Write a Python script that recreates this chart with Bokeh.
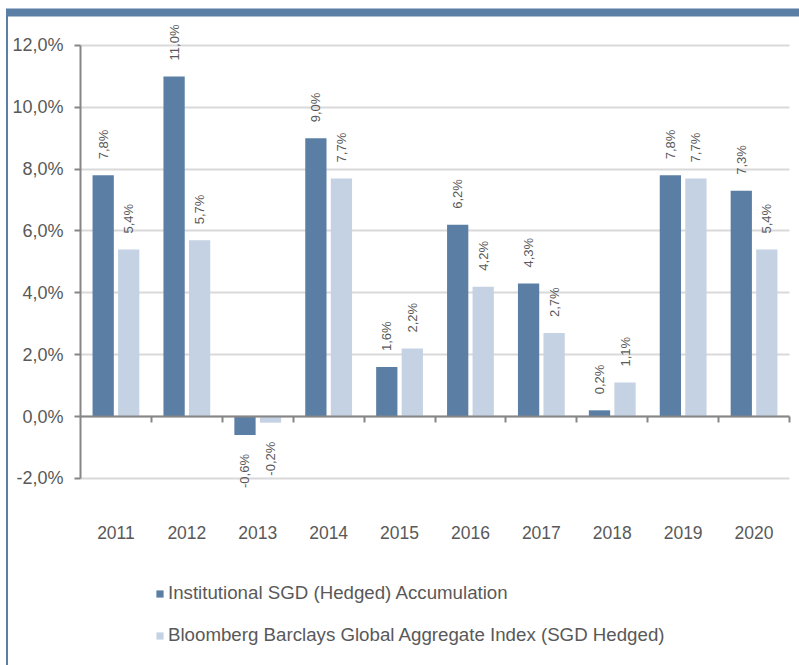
import numpy as np
from bokeh.plotting import figure
from bokeh.models import (ColumnDataSource, Range1d, FixedTicker, Legend,
                          LegendItem, BoxAnnotation, CDSView, IndexFilter)
from bokeh.embed import file_html
from bokeh.resources import INLINE

# ---------------- data ----------------
years = ["2011", "2012", "2013", "2014", "2015", "2016", "2017", "2018", "2019", "2020"]
fund = [7.8, 11.0, -0.6, 9.0, 1.6, 6.2, 4.3, 0.2, 7.8, 7.3]
index_ret = [5.4, 5.7, -0.2, 7.7, 2.2, 4.2, 2.7, 1.1, 7.7, 5.4]
series_names = ["Institutional SGD (Hedged) Accumulation",
                "Bloomberg Barclays Global Aggregate Index (SGD Hedged)"]
y_ticks = [-2, 0, 2, 4, 6, 8, 10, 12]
y_tick_labels = ["-2,0%", "0,0%", "2,0%", "4,0%", "6,0%", "8,0%", "10,0%", "12,0%"]

# ---------------- style ----------------
DARK = "#5b7fa4"
LIGHT = "#c4d2e3"
TEXT = "#595959"
AXIS = "#868686"
GRID = "#d9d9d9"
FONT = "Liberation Sans"

W, H = 799, 665
n = len(years)
centers = np.arange(n) + 0.5

# frame covers the whole canvas; axes are pinned at data positions
PX_X = 70.9    # px per category
PX_Y = 30.917  # px per 1 %
X0, Y0 = 80, 416  # canvas position of the data origin
x_range = Range1d(-X0 / PX_X, n + (W - X0 - n * PX_X) / PX_X)
y_range = Range1d(-(H - Y0) / PX_Y, Y0 / PX_Y)

p = figure(width=W, height=H, output_backend="svg", toolbar_location=None,
           title=None, x_range=x_range, y_range=y_range,
           min_border=0, min_border_left=0, min_border_right=0,
           min_border_top=0, min_border_bottom=0)
p.outline_line_color = None
p.background_fill_color = "white"
p.border_fill_color = "white"

src = ColumnDataSource(dict(
    xf=centers - 0.18, xi=centers + 0.18, fund=fund, idx=index_ret,
    lf=[f"{v:.1f}".replace(".", ",") + "%" for v in fund],
    li=[f"{v:.1f}".replace(".", ",") + "%" for v in index_ret],
))

# grid lines (limited to the plot area)
p.xgrid.visible = False
p.ygrid.ticker = FixedTicker(ticks=y_ticks)
p.ygrid.bounds = (-2, 12)
p.ygrid.grid_line_color = GRID
p.ygrid.grid_line_width = 2
try:
    p.ygrid.cross_bounds = (0, n)
except Exception:
    p.ygrid.visible = False
    p.segment(x0=[0] * len(y_ticks), x1=[n] * len(y_ticks), y0=y_ticks, y1=y_ticks,
              line_color=GRID, line_width=2)

r1 = p.vbar(x="xf", top="fund", width=0.30, source=src, fill_color=DARK, line_color=None)
r2 = p.vbar(x="xi", top="idx", width=0.30, source=src, fill_color=LIGHT, line_color=None)


def add_labels(xcol, ycol, lcol, vals):
    pos = [i for i, v in enumerate(vals) if v >= 0]
    neg = [i for i, v in enumerate(vals) if v < 0]
    p.text(x=xcol, y=ycol, text=lcol, source=src, view=CDSView(filter=IndexFilter(pos)),
           angle=np.pi / 2, text_align="left", text_baseline="middle",
           y_offset=-16, text_font_size="13px", text_color=TEXT, text_font={"value": FONT})
    p.text(x=xcol, y=ycol, text=lcol, source=src, view=CDSView(filter=IndexFilter(neg)),
           angle=np.pi / 2, text_align="right", text_baseline="middle",
           y_offset=19, text_font_size="13px", text_color=TEXT, text_font={"value": FONT})


add_labels("xf", "fund", "lf", fund)
add_labels("xi", "idx", "li", index_ret)

# x axis at zero
xa = p.xaxis[0]
xa.fixed_location = 0
xa.bounds = (0, n)
xa.ticker = FixedTicker(ticks=list(centers), minor_ticks=list(range(1, n + 1)))
xa.major_label_overrides = {float(c): y for c, y in zip(centers, years)}
xa.major_tick_line_color = None
xa.major_tick_out = 0
xa.major_tick_in = 0
xa.minor_tick_in = 0
xa.minor_tick_out = 6
xa.minor_tick_line_color = AXIS
xa.minor_tick_line_width = 2
xa.axis_line_color = AXIS
xa.axis_line_width = 2
xa.major_label_standoff = 103
xa.major_label_text_font_size = "17.5px"
xa.major_label_text_color = TEXT
xa.major_label_text_font = FONT

# y axis at x = 0
ya = p.yaxis[0]
ya.fixed_location = 0
ya.bounds = (-2, 12)
ya.ticker = FixedTicker(ticks=y_ticks)
ya.major_label_overrides = dict(zip(y_ticks, y_tick_labels))
ya.minor_tick_line_color = None
ya.major_tick_in = 0
ya.major_tick_out = 6
ya.major_tick_line_color = AXIS
ya.major_tick_line_width = 2
ya.axis_line_color = AXIS
ya.axis_line_width = 2
ya.major_label_standoff = 11
ya.major_label_text_font_size = "18px"
ya.major_label_text_color = TEXT
ya.major_label_text_font = FONT

legend = Legend(items=[LegendItem(label=series_names[0], renderers=[r1]),
                       LegendItem(label=series_names[1], renderers=[r2])],
                location=(155, 19), orientation="vertical",
                glyph_width=9, glyph_height=9, label_height=22, spacing=20,
                label_standoff=4, padding=0, margin=0,
                border_line_color=None, background_fill_alpha=0,
                label_text_font_size="18.7px", label_text_color=TEXT,
                label_text_font=FONT)
p.add_layout(legend)

# decorative frame borders (screen y measured from the bottom here)
p.add_layout(BoxAnnotation(left=5.5, right=W, top=H - 8, bottom=H - 16,
                           left_units="screen", right_units="screen",
                           top_units="screen", bottom_units="screen",
                           fill_color=DARK, fill_alpha=1, line_color=None, level="overlay"))
p.add_layout(BoxAnnotation(left=5.5, right=7.5, top=H - 10, bottom=0,
                           left_units="screen", right_units="screen",
                           top_units="screen", bottom_units="screen",
                           fill_color=DARK, fill_alpha=1, line_color=None, level="overlay"))

open("out.html", "w").write(file_html(p, INLINE))
